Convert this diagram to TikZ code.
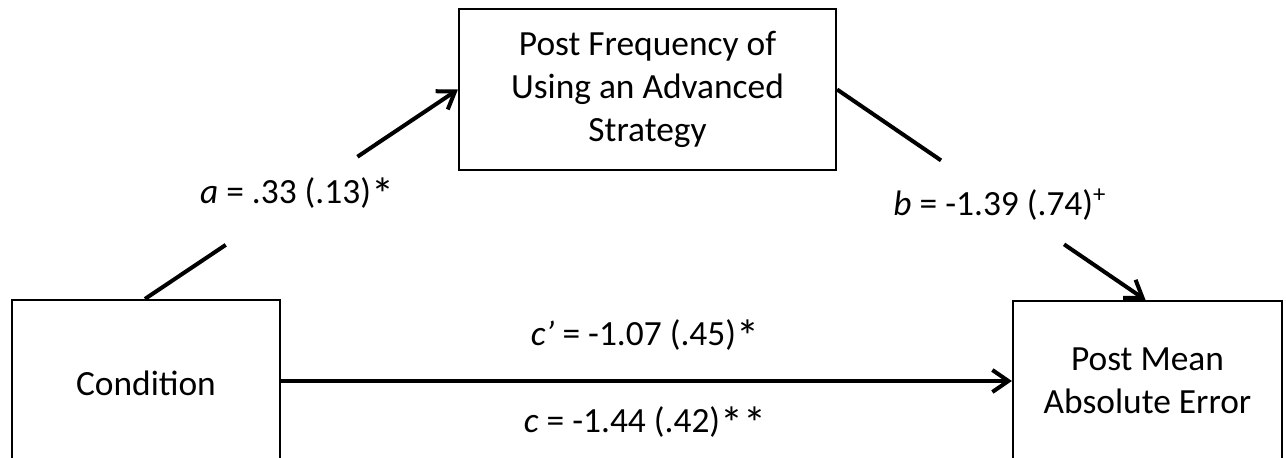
\documentclass[tikz,border=0pt]{standalone}
\usepackage{fontspec}
\setmainfont{Carlito}
\usetikzlibrary{arrows.meta}
\newcommand\myast{\raisebox{-0.45ex}{\scalebox{1.3}{*}}}
\begin{document}
\begin{tikzpicture}[x=0.5pt,y=-0.5pt,
  box/.style={draw=black,line width=1.1pt,align=center,font=\fontsize{17.7}{21.4}\selectfont,inner sep=0pt},
  conn/.style={line width=2pt},
  arr/.style={conn,-{Straight Barb[length=8pt,width=11pt,line width=2pt]}},
  lab/.style={font=\fontsize{17.7}{21}\selectfont,anchor=base}]
\useasboundingbox (0,0) rectangle (1286,457);
\node[box,minimum width=188.5pt,minimum height=80.5pt] (med) at (647.5,89.5) {Post Frequency of\\Using an Advanced\\Strategy};
\node[box,minimum width=134pt,minimum height=83pt] (cond) at (146,383) {Condition};
\node[box,minimum width=134.5pt,minimum height=80pt] (res) at (1147.5,381) {Post Mean\\Absolute Error};
% a path
\path ([xshift=-0.5pt]cond.north) -- (med.west) coordinate[pos=0.258] (a1) coordinate[pos=0.679] (a2);
\draw[conn] ([xshift=-0.5pt]cond.north) -- (a1);
\draw[arr] (a2) -- (med.west);
% b path
\path (med.east) -- ([xshift=-1pt]res.north) coordinate[pos=0.337] (b1) coordinate[pos=0.736] (b2);
\draw[conn] (med.east) -- (b1);
\draw[arr] (b2) -- ([xshift=-1pt]res.north);
% c path
\draw[arr] ([yshift=1pt]cond.east) -- ([yshift=1pt]cond.east -| res.west);
% labels
\node[lab] (la) at (297,203) {\textit{a} = .33 (.13)\myast};
\node[lab] (lb) at (1000,215) {\textit{b} = -1.39 (.74)\textsuperscript{+}};
\node[lab] (lcp) at (645,345) {\textit{c’} = -1.07 (.45)\myast};
\node[lab] (lc) at (645,432) {\textit{c} = -1.44 (.42)\myast\myast};
\end{tikzpicture}
\end{document}
